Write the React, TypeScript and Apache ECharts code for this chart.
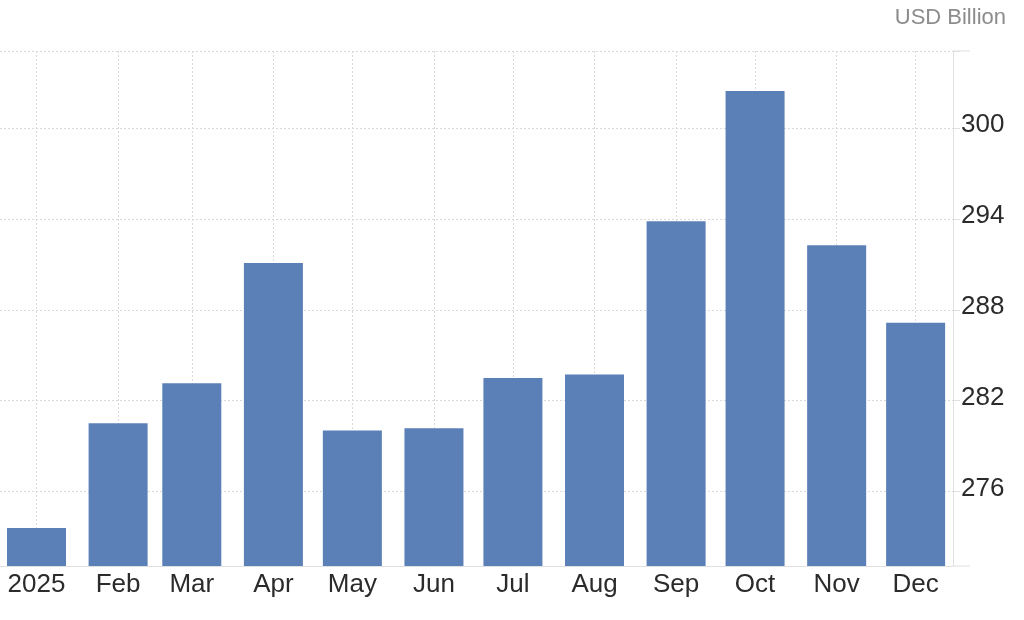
import React, { useEffect, useRef } from "react";
import * as echarts from "echarts";

const YEAR = 2025;
const tickLabels = ["2025", "Feb", "Mar", "Apr", "May", "Jun", "Jul", "Aug", "Sep", "Oct", "Nov", "Dec"];
const values = [273.59, 280.51, 283.15, 291.1, 280.04, 280.18, 283.5, 283.73, 293.86, 302.47, 292.27, 287.16];
const yTicks = [276, 282, 288, 294, 300];
const yMin = 271.08;
const yMax = 305.11;
const unitLabel = "USD Billion";

const DAY = 86400000;
const monthStarts = tickLabels.map((_, i) => new Date(YEAR, i, 1).getTime());
const xMin = monthStarts[0] - 13.87 * DAY;
const xMax = monthStarts[0] + 348.2 * DAY;

const FONT = "'Liberation Sans', Arial, Helvetica, sans-serif";

export default function App() {
  const ref = useRef<HTMLDivElement>(null);
  useEffect(() => {
    if (!ref.current) return;
    const chart = echarts.init(ref.current, null, { renderer: "svg" });
    const gridLine = "#d9d9d9";
    chart.setOption({
      animation: false,
      textStyle: { fontFamily: FONT },
      title: {
        text: unitLabel,
        right: 13,
        top: 0,
        textStyle: { fontSize: 22, fontWeight: "normal", color: "#8c8c8c", fontFamily: FONT },
      },
      grid: { left: 0, right: 71, top: 51, bottom: 54, containLabel: false, outerBoundsMode: "none" },
      xAxis: {
        type: "value",
        min: xMin,
        max: xMax,
        axisLine: { show: true, lineStyle: { color: "#e0e0e0", width: 1 } },
        axisTick: { show: false, customValues: monthStarts },
        axisLabel: {
          customValues: monthStarts,
          margin: 4,
          fontSize: 26,
          color: "#2b2b2b",
          fontFamily: FONT,
          formatter: (v: number) => {
            const m = new Date(v).getMonth();
            return tickLabels[m];
          },
        },
        splitLine: { show: true, lineStyle: { color: gridLine, type: [2, 2], width: 1 } },
      },
      yAxis: {
        type: "value",
        position: "right",
        min: yMin,
        max: yMax,
        axisLine: { show: true, lineStyle: { color: "#e0e0e0", width: 1 } },
        axisTick: { show: true, length: 7, lineStyle: { color: "#e0e0e0" }, customValues: [...yTicks, yMax] },
        axisLabel: {
          customValues: yTicks,
          margin: 8,
          fontSize: 26,
          color: "#2b2b2b",
          fontFamily: FONT,
          verticalAlign: "bottom",
          lineHeight: 10,
        },
        splitLine: { show: true, lineStyle: { color: gridLine, type: [2, 2], width: 1 } },
      },
      graphic: [
        { type: "line", shape: { x1: 953, y1: 51, x2: 970, y2: 51 }, style: { stroke: "#e0e0e0", lineWidth: 1 } },
        { type: "line", shape: { x1: 953, y1: 566, x2: 970, y2: 566 }, style: { stroke: "#e0e0e0", lineWidth: 1 } },
      ],
      series: [
        {
          type: "bar",
          barWidth: 59,
          itemStyle: { color: "#5b7fb7" },
          data: monthStarts.map((t, i) => [t, values[i]]),
        },
      ],
    });
    return () => chart.dispose();
  }, []);
  return <div ref={ref} style={{ position: "fixed", left: 0, top: 0, width: 1024, height: 620 }} />;
}
